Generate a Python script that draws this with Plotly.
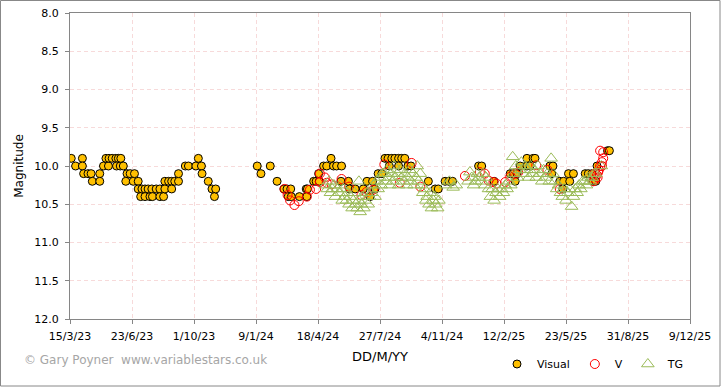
import pandas as pd
import plotly.graph_objects as go

START = "2023-03-15"

# Days since 15/3/23 and magnitudes
vis_day = [2, 9, 20, 20, 22, 29, 34, 36, 48, 48, 54, 58, 62, 63, 68, 74, 75, 78, 81, 82,
           86, 90, 92, 97, 102, 104, 110, 110, 114, 116, 121, 121, 126, 129, 132, 133, 139, 145, 145, 151,
           153, 153, 159, 164, 164, 169, 175, 175, 186, 191, 203, 207, 212, 213, 223, 229, 233, 235,
           302, 308, 323, 334, 345, 350, 352, 356, 357, 370, 381, 382, 383, 393, 397, 401, 402, 409, 414, 421,
           425, 430, 438, 437, 449, 451, 460, 473, 479, 484, 488, 492, 497, 503, 508, 513, 519, 524, 530, 535,
           540, 515, 530, 545, 550, 578, 589, 594,
           605, 611, 617, 659, 664, 684, 710, 715, 718, 721, 726, 737, 742, 737, 747, 750, 774, 779, 777, 790,
           796, 795, 804, 806, 812, 831, 836, 842, 844, 848, 850, 867, 870]
vis_mag = [9.9, 10.0, 9.9, 10.0, 10.1, 10.1, 10.1, 10.2, 10.1, 10.2, 10.0, 9.9, 10.0, 9.9, 9.9, 9.9, 10.0, 9.9, 10.0, 9.9,
           10.0, 10.2, 10.1, 10.1, 10.2, 10.1, 10.2, 10.3, 10.4, 10.3, 10.3, 10.4, 10.3, 10.4, 10.3, 10.4, 10.3, 10.3, 10.4, 10.4,
           10.2, 10.3, 10.2, 10.2, 10.3, 10.2, 10.2, 10.1, 10.0, 10.0, 10.0, 9.9, 10.0, 10.1, 10.2, 10.3, 10.4, 10.3,
           10.0, 10.1, 10.0, 10.2, 10.3, 10.3, 10.4, 10.3, 10.4, 10.4, 10.3, 10.4, 10.3, 10.2, 10.2, 10.1, 10.2, 10.0, 10.0, 9.9,
           10.0, 10.0, 10.0, 10.2, 10.2, 10.3, 10.3, 10.3, 10.2, 10.4, 10.2, 10.3, 10.1, 10.1, 9.9, 9.9, 9.9, 9.9, 9.9, 9.9,
           9.9, 10.0, 10.0, 10.0, 10.0, 10.2, 10.3, 10.3,
           10.2, 10.2, 10.2, 10.0, 10.0, 10.2, 10.1, 10.1, 10.2, 10.1, 10.0, 10.0, 10.0, 9.9, 9.9, 9.9, 10.0, 10.0, 10.1, 10.2,
           10.2, 10.3, 10.1, 10.2, 10.1, 10.1, 10.1, 10.1, 10.2, 10.2, 10.0, 9.8, 9.8]

v_day = [346, 351, 355, 362, 369, 382, 387, 397, 403, 403, 411, 414, 422, 438, 450, 470, 478, 489, 507, 532,
         551, 565, 637, 661, 669, 675, 683, 688, 702, 710, 718, 723, 752, 770, 790, 844, 846, 847, 850, 851,
         852, 853, 855, 855, 858, 858, 860, 860]
v_mag = [10.3, 10.38, 10.45, 10.51, 10.46, 10.4, 10.31, 10.3, 10.21, 10.1, 10.15, 10.22, 10.24, 10.17, 10.27, 10.38, 10.34, 10.31, 9.98, 10.22,
         9.96, 10.27, 10.13, 10.08, 10.1, 10.19, 10.21, 10.23, 10.21, 10.14, 10.1, 10.08, 9.99, 10.05, 10.3, 10.2, 10.1, 10.17, 10.12, 10.15,
         10.08, 10.05, 10.0, 9.8, 10.0, 9.95, 9.9, 9.82]

tg_day = [412, 415, 418, 420, 423, 426, 428, 431, 434, 436, 439, 441, 443, 446, 448, 450, 452, 455, 457, 459,
          461, 463, 466, 468, 470, 466, 472, 474, 476, 479, 481, 483, 486, 489, 492, 495, 497, 500, 502, 504,
          507, 509, 511, 514, 516, 518, 521, 523, 525, 528, 530, 533, 535, 538, 540, 543, 545, 548, 550, 553,
          555, 558, 560, 562, 565, 567, 569, 572, 574, 576, 579, 581, 583, 586, 588, 590, 593, 595, 606, 612,
          618, 623,
          642, 645, 648, 651, 654, 657, 660, 663, 666, 669, 671, 675, 678, 681, 684, 687, 690, 693, 696, 699,
          702, 705, 708, 711, 714, 716, 719, 722, 725, 728, 731, 734, 737, 740, 743, 746, 749, 752, 755, 758,
          761, 764, 767, 770, 773, 776, 779, 782, 785, 788, 791, 794, 797, 800, 803, 806, 809, 812, 815, 818,
          821, 824, 827, 830, 833, 836, 839, 842, 845, 848, 857]
tg_mag = [10.25, 10.3, 10.2, 10.35, 10.3, 10.25, 10.4, 10.3, 10.35, 10.25, 10.45, 10.3, 10.4, 10.45, 10.35, 10.5, 10.4, 10.55, 10.45, 10.35,
          10.5, 10.55, 10.45, 10.6, 10.5, 10.2, 10.4, 10.55, 10.45, 10.35, 10.5, 10.4, 10.35, 10.25, 10.4, 10.2, 10.3, 10.15, 10.25, 10.1,
          10.1, 10.2, 10.05, 10.15, 10.25, 10.1, 10.2, 10.0, 10.15, 10.1, 10.25, 10.05, 10.15, 10.2, 10.1, 10.25, 10.15, 10.05, 10.2, 10.1,
          10.25, 10.15, 10.0, 10.2, 10.1, 10.25, 10.35, 10.3, 10.45, 10.4, 10.5, 10.35, 10.55, 10.45, 10.4, 10.5, 10.55, 10.45, 10.25, 10.2,
          10.28, 10.25,
          10.2, 10.08, 10.15, 10.25, 10.2, 10.1, 10.15, 10.2, 10.1, 10.25, 10.15, 10.3, 10.4, 10.3, 10.45, 10.35, 10.3, 10.4, 10.3, 10.35,
          10.25, 10.3, 10.2, 10.25, 9.88, 10.1, 10.0, 10.15, 10.05, 9.95, 10.1, 10.0, 10.05, 10.15, 10.0, 10.1, 10.05, 10.15, 10.0, 10.1,
          10.2, 10.05, 10.15, 10.1, 10.2, 9.9, 10.1, 10.2, 10.3, 10.25, 10.35, 10.4, 10.3, 10.45, 10.35, 10.3, 10.53, 10.4, 10.3, 10.35,
          10.25, 10.3, 10.2, 10.2, 10.25, 10.15, 10.2, 10.15, 10.1, 10.1, 10.0]

tick_day = [0, 100, 200, 300, 400, 500, 600, 700, 800, 900, 1000]
tick_text = ["15/3/23", "23/6/23", "1/10/23", "9/1/24", "18/4/24", "27/7/24",
             "4/11/24", "12/2/25", "23/5/25", "31/8/25", "9/12/25"]
y_ticks = [8.0, 8.5, 9.0, 9.5, 10.0, 10.5, 11.0, 11.5, 12.0]

base = pd.Timestamp(START)


def to_dates(days):
    return base + pd.to_timedelta(days, unit="D")


W, H = 721, 387
ML, MR, MT, MB = 70, 31, 13, 68
PW, PH = W - ML - MR, H - MT - MB

fig = go.Figure()
fig.add_trace(go.Scatter(
    x=to_dates(vis_day), y=vis_mag, mode="markers", name="Visual",
    marker=dict(symbol="circle", size=8, color="#ffc000", line=dict(color="#000000", width=1))))
fig.add_trace(go.Scatter(
    x=to_dates(v_day), y=v_mag, mode="markers", name="V",
    marker=dict(symbol="circle-open", size=9, color="#ff0000", line=dict(width=1))))
fig.add_trace(go.Scatter(
    x=to_dates(tg_day), y=tg_mag, mode="markers", name="TG",
    marker=dict(symbol="triangle-up-open", size=11, color="#9bbb59", line=dict(width=1))))

grid = "#f7dada"
axis_col = "#868686"
fig.update_layout(
    width=W, height=H,
    margin=dict(l=ML, r=MR, t=MT, b=MB, autoexpand=False),
    paper_bgcolor="white", plot_bgcolor="white",
    font=dict(family="DejaVu Sans", size=11, color="#000000"),
    showlegend=True,
    legend=dict(orientation="h", xanchor="right", x=1.0, yanchor="middle", y=-45.0 / PH,
                font=dict(size=11), itemwidth=30, bgcolor="rgba(0,0,0,0)",
                tracegroupgap=0),
    xaxis=dict(
        range=[base, base + pd.Timedelta(days=1000)],
        tickmode="array", tickvals=to_dates(tick_day), ticktext=tick_text,
        showgrid=True, gridcolor=grid, griddash="4px,3px", gridwidth=1,
        showline=True, linecolor=axis_col, linewidth=1, mirror=True,
        ticks="outside", ticklen=4, tickcolor=axis_col, ticklabelstandoff=3,
        zeroline=False, automargin=False,
        title=dict(text="DD/M/YY", font=dict(size=13), standoff=9),
    ),
    yaxis=dict(
        range=[12.0, 8.0], tickmode="array", tickvals=y_ticks,
        ticktext=[f"{v:.1f}" for v in y_ticks],
        showgrid=True, gridcolor=grid, griddash="4px,3px", gridwidth=1,
        showline=True, linecolor=axis_col, linewidth=1, mirror=True,
        ticks="outside", ticklen=4, tickcolor=axis_col, ticklabelstandoff=4,
        zeroline=False, automargin=False,
        title=dict(text="Magnitude", font=dict(size=12), standoff=8),
    ),
)

fig.add_annotation(
    text="© Gary Poyner  www.variablestars.co.uk", xref="paper", yref="paper",
    x=(22.0 - ML) / PW, y=-(360.0 - (MT + PH)) / PH, xanchor="left", yanchor="middle",
    showarrow=False, font=dict(family="DejaVu Sans", size=12, color="#a6a6a6"))

fig.add_shape(type="rect", xref="paper", yref="paper",
              x0=(0.5 - ML) / PW, x1=(720.0 - ML) / PW,
              y0=-(386.0 - (MT + PH)) / PH, y1=1 + (MT - 0.5) / PH,
              line=dict(color="#888888", width=1), fillcolor="rgba(0,0,0,0)", layer="below")

fig.write_html("out.html", config={"displayModeBar": False},
               post_script="document.body.style.margin='0';")
